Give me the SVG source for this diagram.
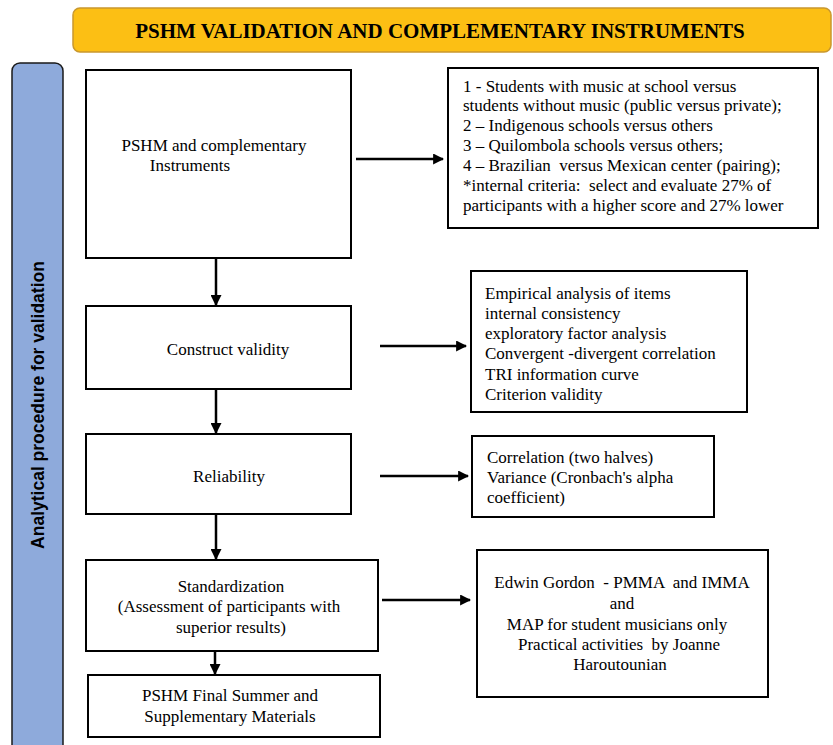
<svg xmlns="http://www.w3.org/2000/svg" width="833" height="745" viewBox="0 0 833 745">
  <style>
    .box { fill: #ffffff; stroke: #000000; stroke-width: 2; }
    .t { font-family: "Liberation Serif", "Times New Roman", serif; font-size: 17px; fill: #000000; }
    .c { text-anchor: middle; }
    .conn { stroke: #000000; stroke-width: 2.5; fill: none; marker-end: url(#arrow); }
  </style>
  <defs>
    <marker id="arrow" viewBox="0 0 10 10" refX="9" refY="5" markerWidth="4.4" markerHeight="4.4" orient="auto" markerUnits="strokeWidth">
      <path d="M0,0 L10,5 L0,10 Z" fill="#000000"/>
    </marker>
  </defs>
  <rect width="833" height="745" fill="#ffffff"/>

  <!-- header banner -->
  <g id="title">
    <rect x="73" y="8" width="758" height="44" rx="7" ry="7" fill="#FCBF14" stroke="#C9982E" stroke-width="1.5"/>
    <text x="440" y="38" text-anchor="middle" font-family="Liberation Serif, 'Times New Roman', serif" font-size="21" font-weight="bold" fill="#000000">PSHM VALIDATION AND COMPLEMENTARY INSTRUMENTS</text>
  </g>

  <!-- vertical side band -->
  <g id="side">
    <rect x="12" y="63" width="51" height="690" rx="8" ry="8" fill="#8EAADB" stroke="#1a1a1a" stroke-width="1.5"/>
    <text transform="translate(44,405) rotate(-90)" text-anchor="middle" font-family="Liberation Sans, Arial, sans-serif" font-size="17.5" font-weight="bold" fill="#000000">Analytical procedure for validation</text>
  </g>

  <!-- main sequence -->
  <g id="n1">
    <rect class="box" x="86" y="70" width="265" height="188"/>
    <text class="t c" x="214" y="151">PSHM and complementary</text>
    <text class="t c" x="190" y="171">Instruments</text>
  </g>
  <g id="n2">
    <rect class="box" x="86" y="306" width="265" height="83"/>
    <text class="t c" x="228" y="355">Construct validity</text>
  </g>
  <g id="n3">
    <rect class="box" x="86" y="434" width="265" height="80"/>
    <text class="t c" x="229" y="482">Reliability</text>
  </g>
  <g id="n4">
    <rect class="box" x="86" y="560" width="292" height="91"/>
    <text class="t c" x="231" y="592">Standardization</text>
    <text class="t c" x="229" y="612">(Assessment of participants with</text>
    <text class="t c" x="231" y="633">superior results)</text>
  </g>
  <g id="n5">
    <rect class="box" x="88" y="675" width="292" height="62"/>
    <text class="t c" x="230" y="701">PSHM Final Summer and</text>
    <text class="t c" x="230" y="722">Supplementary Materials</text>
  </g>

  <!-- detail boxes -->
  <g id="d1">
    <rect class="box" x="448" y="68" width="370" height="160"/>
    <text class="t" x="463" y="92">1 - Students with music at school versus</text>
    <text class="t" x="463" y="111">students without music (public versus private);</text>
    <text class="t" x="463" y="131">2 – Indigenous schools versus others</text>
    <text class="t" x="463" y="151">3 – Quilombola schools versus others;</text>
    <text class="t" x="463" y="171" xml:space="preserve">4 – Brazilian  versus Mexican center (pairing);</text>
    <text class="t" x="463" y="191" xml:space="preserve">*internal criteria:  select and evaluate 27% of</text>
    <text class="t" x="463" y="211">participants with a higher score and 27% lower</text>
  </g>
  <g id="d2">
    <rect class="box" x="471" y="271" width="276" height="141"/>
    <text class="t" x="485" y="299">Empirical analysis of items</text>
    <text class="t" x="485" y="319">internal consistency</text>
    <text class="t" x="485" y="339">exploratory factor analysis</text>
    <text class="t" x="485" y="359">Convergent -divergent correlation</text>
    <text class="t" x="485" y="380">TRI information curve</text>
    <text class="t" x="485" y="400">Criterion validity</text>
  </g>
  <g id="d3">
    <rect class="box" x="472" y="436" width="242" height="81"/>
    <text class="t" x="487" y="463">Correlation (two halves)</text>
    <text class="t" x="487" y="483">Variance (Cronbach's alpha</text>
    <text class="t" x="487" y="503">coefficient)</text>
  </g>
  <g id="d4">
    <rect class="box" x="477" y="550" width="291" height="147"/>
    <text class="t c" x="622" y="588" xml:space="preserve">Edwin Gordon  - PMMA  and IMMA</text>
    <text class="t c" x="622" y="609">and</text>
    <text class="t c" x="617" y="630">MAP for student musicians only</text>
    <text class="t c" x="619" y="650" xml:space="preserve">Practical activities  by Joanne</text>
    <text class="t c" x="620" y="670">Haroutounian</text>
  </g>

  <!-- connectors -->
  <g id="connectors">
    <line class="conn" x1="216" y1="259" x2="216" y2="305"/>
    <line class="conn" x1="216" y1="390" x2="216" y2="433"/>
    <line class="conn" x1="216" y1="515" x2="216" y2="559"/>
    <line class="conn" x1="215" y1="652" x2="215" y2="674"/>
    <line class="conn" x1="356" y1="159" x2="443" y2="159"/>
    <line class="conn" x1="380" y1="346" x2="466" y2="346"/>
    <line class="conn" x1="380" y1="476" x2="468" y2="476"/>
    <line class="conn" x1="382" y1="600" x2="470" y2="600"/>
  </g>
</svg>
